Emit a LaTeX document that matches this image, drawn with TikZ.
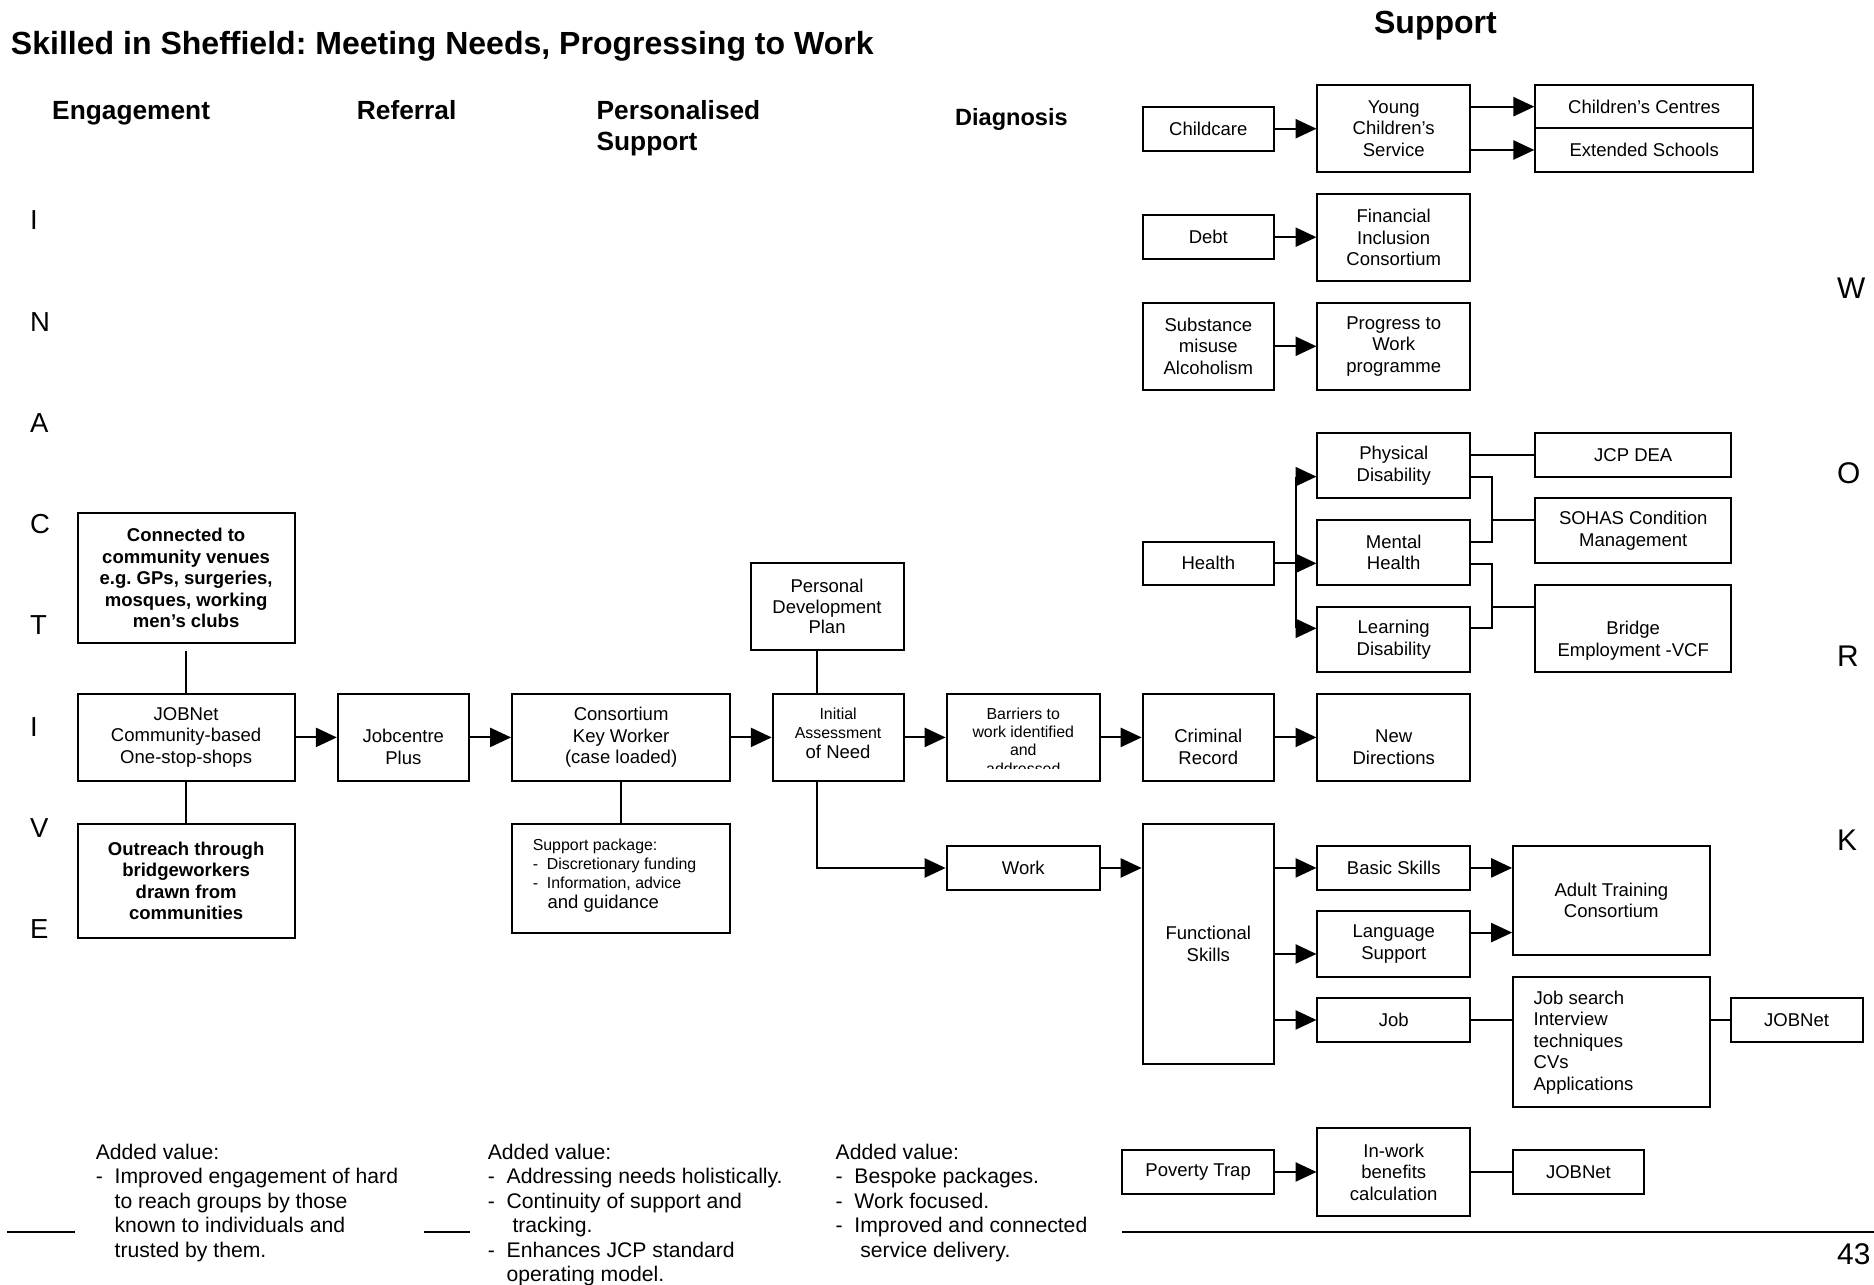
\documentclass[tikz,border=0pt]{standalone}
\usepackage{fontspec}
\setmainfont{Liberation Sans}
\usetikzlibrary{arrows.meta,calc}
\frenchspacing
\newcommand{\fbody}{\fontsize{15.5}{18}\selectfont}
\newcommand{\fsmall}{\fontsize{13.3}{15.3}\selectfont}
\newcommand{\fia}{\fontsize{13.3}{15.7}\selectfont}
\newcommand{\fspk}{\fontsize{13.3}{15.8}\selectfont}
\newcommand{\fpdp}{\fontsize{15.5}{17.3}\selectfont}
\newcommand{\fav}{\fontsize{17.7}{20.4}\selectfont}
\newcommand{\fhdr}{\fontsize{22}{26.2}\selectfont\bfseries}
\newcommand{\fdiag}{\fontsize{19.7}{24}\selectfont\bfseries}
\newcommand{\ftitle}{\fontsize{26.8}{30}\selectfont\bfseries}
\newcommand{\flet}{\fontsize{23}{26}\selectfont}
\newcommand{\fletr}{\fontsize{25}{28}\selectfont}
\newcommand{\pushdn}{\rule{0pt}{27.3pt}}
% box by corners: [options]{name}{x1}{y1}{x2}{y2}{text}
\newcommand{\mkbox}[7][]{\node[box,#1,minimum width={#5pt-#3pt},minimum height={#6pt-#4pt}] (#2) at ({(#3+#5)/2},{(#4+#6)/2}) {#7};}
\begin{document}
\begin{tikzpicture}[x=1pt,y=-1pt,
  box/.style={draw, line width=1.6pt, inner sep=0pt, align=center, font=\fbody},
  conn/.style={line width=1.6pt},
  arr/.style={line width=1.6pt, -{Triangle[length=17.5pt,width=16pt]}},
  txt/.style={inner sep=0pt},
  hdr/.style={inner sep=0pt, anchor=base west, font=\fhdr},
  lett/.style={inner sep=0pt, anchor=base west, font=\flet},
  lettr/.style={inner sep=0pt, anchor=base west, font=\fletr}]
\fill[white] (0,0) rectangle (1568,1075);
\useasboundingbox (0,0) rectangle (1568,1075);

% titles and headers
\node[txt, anchor=base west, font=\ftitle] (title) at (9,46) {Skilled in Sheffield: Meeting Needs, Progressing to Work};
\node[txt, anchor=base west, font=\ftitle] (suphd) at (1149.5,27.9) {Support};
\node[hdr] (h1) at (43.5,100.4) {Engagement};
\node[hdr] (h2) at (298.5,100.4) {Referral};
\node[hdr, anchor=north west, align=left] (h3) at (499,83.8) {Personalised\\Support};
\node[hdr, font=\fdiag] (h4) at (799,104.6) {Diagnosis};

% side letters
\foreach \l/\y [count=\i] in {I/192.4,N/277,A/362,C/446.5,T/531,I/616,V/700.5,E/785}
  \node[lett] (lft\i) at (25,\y) {\l};
\foreach \l/\y [count=\i] in {W/250,O/404.5,R/558,K/711.5}
  \node[lettr] (rgt\i) at (1537,\y) {\l};
\node[txt, anchor=base west, font=\fletr] (pgno) at (1537,1058.4) {43};

% left column
\mkbox[font=\fbody\bfseries]{con}{65}{429}{246.5}{538.3}{Connected to\\community venues\\e.g. GPs, surgeries,\\mosques, working\\men’s clubs}
\mkbox{jn}{65}{580.5}{246.5}{653.5}{JOBNet\\Community-based\\One-stop-shops}
\mkbox[font=\fbody\bfseries]{out}{65}{689.4}{246.5}{785}{Outreach through\\bridgeworkers\\drawn from\\communities}
\mkbox{jcp}{282.6}{580.5}{392.3}{653.5}{\pushdn Jobcentre\\Plus}
\mkbox{cons}{428.4}{580.5}{611}{653.5}{Consortium\\Key Worker\\(case loaded)}
\mkbox{spk}{428.4}{689.4}{611}{781}{}
\node[txt, anchor=north west, align=left, font=\fspk] (spktxt) at (445.6,701.6)
  {Support package:\\-\ \ Discretionary funding\\-\ \ Information, advice\\[1pt]\hspace*{12.4pt}{\fbody and guidance}};
\mkbox[font=\fpdp]{pdp}{628}{471.3}{756}{543.8}{Personal\\Development\\Plan}
\mkbox[font=\fia]{ia}{646.5}{580.5}{756}{653.5}{Initial\\Assessment\\[1.2pt]{\fbody of Need}\rule[-7.2pt]{0pt}{1pt}}
\mkbox{bar}{792}{580.5}{920.4}{653.5}{}
\begin{scope}
  \clip (792,580.5) rectangle (920.4,643);
  \node[txt, align=center, font=\fsmall] (bartxt) at (856.2,620) {Barriers to\\work identified\\and\\addressed};
\end{scope}
\mkbox{work}{792}{707.8}{920.4}{744.7}{Work}

% support column
\mkbox{cc}{956}{89.3}{1066}{126.1}{Childcare}
\mkbox{ycs}{1102.3}{71.1}{1230}{143.6}{Young\\Children’s\\Service}
\mkbox{ccen}{1284.6}{71.1}{1466.8}{107.4}{Children’s Centres}
\mkbox{es}{1284.6}{107.4}{1466.8}{143.6}{Extended Schools}
\mkbox{debt}{956}{179.9}{1066}{217}{Debt}
\mkbox{fic}{1102.3}{162.3}{1230}{235.1}{Financial\\Inclusion\\Consortium}
\mkbox{sub}{956}{253.2}{1066}{326.3}{Substance\\misuse\\Alcoholism}
\mkbox{ptw}{1102.3}{253.2}{1230}{326.3}{Progress to\\Work\\programme}
\mkbox{pd}{1102.3}{362.6}{1230}{417}{Physical\\Disability}
\mkbox{jcpdea}{1284.6}{362.6}{1448.5}{398.8}{JCP DEA}
\mkbox{sohas}{1284.6}{417}{1448.5}{471.3}{SOHAS Condition\\Management}
\mkbox{mh}{1102.3}{435.1}{1230}{489.5}{Mental\\Health}
\mkbox{ld}{1102.3}{508.1}{1230}{562}{Learning\\Disability}
\mkbox{bridge}{1284.6}{489.5}{1448.5}{562}{}
\node[txt, align=center, font=\fbody] (bridgetxt) at (1366.5,536) {Bridge\\Employment -VCF};
\mkbox{health}{956}{453.2}{1066}{489.5}{Health}
\mkbox{cr}{956}{580.5}{1066}{653.5}{\pushdn Criminal\\Record}
\mkbox{nd}{1102.3}{580.5}{1230}{653.5}{\pushdn New\\Directions}
\mkbox{fs}{956}{689.4}{1066}{890.2}{Functional\\Skills}
\mkbox{bs}{1102.3}{707.8}{1230}{744.6}{Basic Skills}
\mkbox{ls}{1102.3}{762.2}{1230}{817.2}{Language\\Support}
\mkbox{job}{1102.3}{835.3}{1230}{871.5}{Job}
\mkbox{atc}{1266}{707.8}{1430.4}{799}{Adult Training\\Consortium}
\mkbox{js}{1266}{817.2}{1430.4}{926.5}{}
\node[txt, anchor=north west, align=left, font=\fbody] (jstxt) at (1283,828.7) {Job search\\Interview\\techniques\\CVs\\Applications};
\mkbox{jn2}{1448.1}{835.3}{1558.4}{871.5}{JOBNet}
\mkbox{pt}{939}{962.2}{1066}{999}{Poverty Trap}
\mkbox{iw}{1102.3}{944.1}{1230}{1017.4}{In-work\\benefits\\calculation}
\mkbox{jn3}{1266}{962.2}{1375.4}{999}{JOBNet}

% added value texts
\node[txt, anchor=north west, align=left, font=\fav] (av1) at (80,957.2)
  {Added value:\\-\ \ Improved engagement of hard\\\hphantom{-\ \ }to reach groups by those\\\hphantom{-\ \ }known to individuals and\\\hphantom{-\ \ }trusted by them.};
\node[txt, anchor=north west, align=left, font=\fav] (av2) at (408,957.2)
  {Added value:\\-\ \ Addressing needs holistically.\\-\ \ Continuity of support and\\\hphantom{-\ \ }\ tracking.\\-\ \ Enhances JCP standard\\\hphantom{-\ \ }operating model.};
\node[txt, anchor=north west, align=left, font=\fav] (av3) at (699,957.2)
  {Added value:\\-\ \ Bespoke packages.\\-\ \ Work focused.\\-\ \ Improved and connected\\\hphantom{-\ \ }\ service delivery.};

% rules at the bottom
\draw[line width=1.7pt] (6,1030.5) -- (63,1030.5);
\draw[line width=1.7pt] (355,1030.5) -- (393,1030.5);
\draw[line width=1.7pt] (939,1030.5) -- (1568,1030.5);

% connectors, left part
\draw[conn, shorten <=5.6pt] (con.south) -- (jn.north);
\draw[conn] (jn.south) -- (out.north);
\draw[arr] (jn.east) -- (jcp.west);
\draw[arr] (jcp.east) -- (cons.west);
\draw[conn] (cons.south) -- (spk.north);
\draw[arr] (cons.east) -- (ia.west);
\coordinate (vx) at (683.3,0);
\draw[conn] (pdp.south -| vx) -- (ia.north -| vx);
\draw[arr] (ia.south -| vx) |- (work.west);
\draw[arr] (ia.east) -- (bar.west);
\draw[arr] (bar.east) -- (cr.west);
\draw[arr] (cr.east) -- (nd.west);
\draw[arr] (work.east) -- (work.east -| fs.west);
\draw[arr] (fs.east |- bs.west) -- (bs.west);
\coordinate (lsin) at ([yshift=-8.5pt]ls.west);
\draw[arr] (fs.east |- lsin) -- (lsin);
\draw[arr] (fs.east |- job.west) -- (job.west);
\draw[arr] (bs.east) -- (bs.east -| atc.west);
\coordinate (lsout) at ([yshift=9.4pt]ls.east);
\draw[arr] (lsout) -- (lsout -| atc.west);
\draw[conn] (job.east) -- (job.east -| js.west);
\draw[conn] (jn2.west) -- (jn2.west -| js.east);
\draw[arr] (pt.east) -- (pt.east -| iw.west);
\draw[conn] (iw.east) -- (iw.east -| jn3.west);

% connectors, support part
\draw[arr] (cc.east) -- (cc.east -| ycs.west);
\draw[arr] (ccen.west -| ycs.east) -- (ccen.west);
\draw[arr] (es.west -| ycs.east) -- (es.west);
\draw[arr] (debt.east) -- (debt.east -| fic.west);
\draw[arr] (sub.east) -- (sub.east -| ptw.west);

% health branch
\coordinate (bus) at (1084.7,0);
\coordinate (pdin) at ([yshift=-9pt]pd.west);
\coordinate (ldin) at ([yshift=9.3pt]ld.west);
\draw[conn] (health.east) -- (health.east -| bus);
\draw[conn] (bus |- pdin) -- (bus |- ldin);
\draw[arr] (bus |- pdin) -- (pdin);
\draw[arr] (health.east -| bus) -- (health.east -| mh.west);
\draw[arr] (bus |- ldin) -- (ldin);
\coordinate (brx) at (1248,0);
\coordinate (pdout) at ([yshift=-9pt]pd.east);
\coordinate (mhup) at ([yshift=9.1pt]mh.east);
\coordinate (mhout) at ([yshift=-9.3pt]mh.east);
\coordinate (ldout) at ([yshift=9.3pt]ld.east);
\coordinate (sohasin) at ([yshift=9pt]sohas.west);
\coordinate (bridgein) at ([yshift=18.1pt]bridge.west);
\draw[conn] (pdout) -| (brx |- mhup) -- (mhup);
\draw[conn] (brx |- sohasin) -- (sohasin);
\draw[conn] (mhout) -| (brx |- ldout) -- (ldout);
\draw[conn] (brx |- bridgein) -- (bridgein);
\draw[conn] (pd.east |- jcpdea.west) -- (jcpdea.west);
\end{tikzpicture}
\end{document}
